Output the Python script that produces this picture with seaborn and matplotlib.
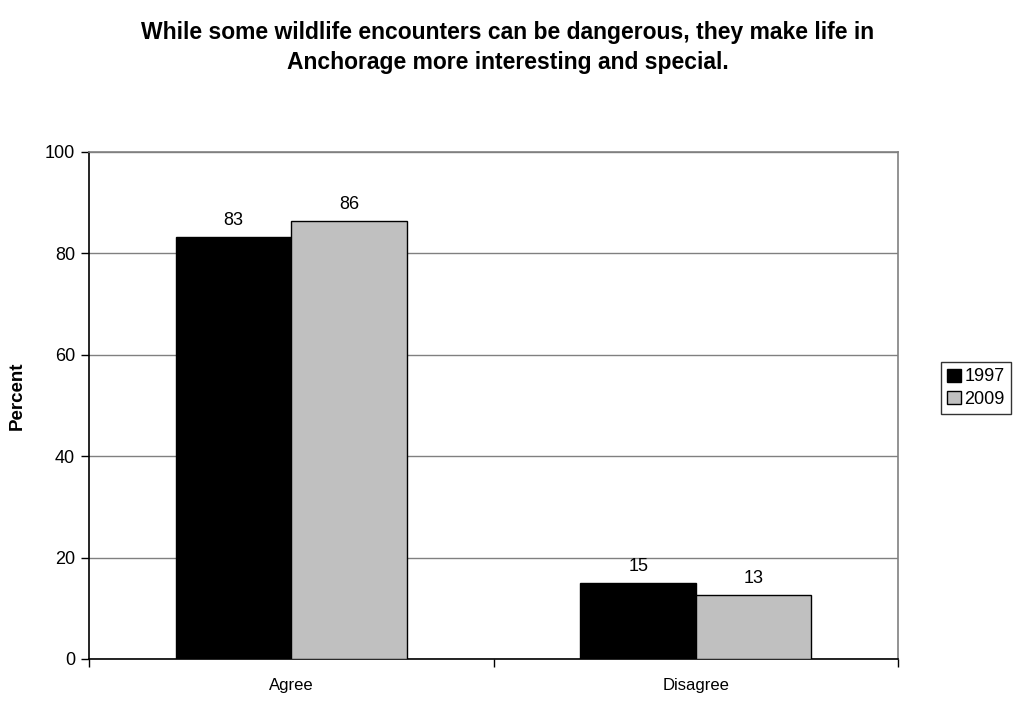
import numpy as np
import pandas as pd
import matplotlib
matplotlib.use("Agg")
import matplotlib.pyplot as plt
import seaborn as sns

# data
categories = ["Agree", "Disagree"]
years = ["1997", "2009"]
values_1997 = [83.2, 15.0]
values_2009 = [86.4, 12.6]
colors = ["#000000", "#c0c0c0"]

df = pd.DataFrame({
    "Response": categories * 2,
    "Year": [years[0]] * 2 + [years[1]] * 2,
    "Percent": values_1997 + values_2009,
})

sns.set_style("white")
plt.rcParams["font.family"] = ["Liberation Sans", "DejaVu Sans"]
plt.rcParams["text.color"] = "black"
plt.rcParams["xtick.color"] = "black"
plt.rcParams["ytick.color"] = "black"
plt.rcParams["axes.labelcolor"] = "black"

fig = plt.figure(figsize=(10.16, 7.02), dpi=100)
ax = fig.add_axes([0.0876, 0.0613, 0.7963, 0.7222])

sns.barplot(data=df, x="Response", y="Percent", hue="Year", palette=colors,
            width=0.57, edgecolor="black", linewidth=1, ax=ax, zorder=3)

ax.set_ylim(0, 100)
ax.set_xlim(-0.5, 1.5)
ax.set_yticks([0, 20, 40, 60, 80, 100])
ax.yaxis.grid(True, color="#808080", linewidth=1, zorder=0)
ax.set_axisbelow(True)

# value labels on top of bars
for container in ax.containers:
    ax.bar_label(container, labels=[f"{v:.0f}" for v in container.datavalues],
                 padding=6, fontsize=13)

ax.set_xlabel("")
ax.set_ylabel("Percent", fontsize=13.5, fontweight="bold")
ax.yaxis.set_label_coords(-0.078, 0.52)
ax.tick_params(axis="y", labelsize=13, left=True, length=6, width=1, color="black", pad=4)
ax.tick_params(axis="x", labelsize=12, bottom=False, pad=10)
# category separator ticks on x axis
ax.set_xticks([-0.5, 0.5, 1.5], minor=True)
ax.tick_params(axis="x", which="minor", bottom=True, length=6, width=1, color="black")

for side in ["left", "bottom"]:
    ax.spines[side].set_color("black")
    ax.spines[side].set_linewidth(1.2)
for side in ["top", "right"]:
    ax.spines[side].set_color("#808080")
    ax.spines[side].set_linewidth(1.2)

leg = ax.legend(loc="center left", bbox_to_anchor=(0.926, 0.447), bbox_transform=fig.transFigure,
                fontsize=13, frameon=True, fancybox=False, borderpad=0.35,
                handlelength=0.75, handleheight=0.75, handletextpad=0.2, labelspacing=0.3,
                borderaxespad=0)
leg.get_frame().set_edgecolor("black")
leg.get_frame().set_linewidth(1)

fig.text(0.5, 0.97, "While some wildlife encounters can be dangerous, they make life in\n"
         "Anchorage more interesting and special.",
         ha="center", va="top", fontsize=16.5, fontweight="bold", linespacing=1.4)

fig.savefig("out.png", dpi=100)
